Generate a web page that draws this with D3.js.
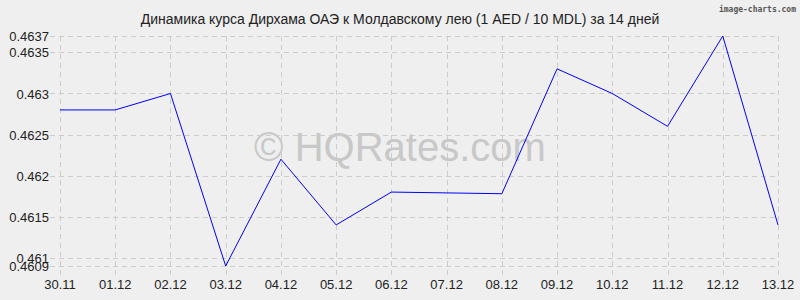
<!DOCTYPE html>
<html><head><meta charset="utf-8">
<script src="https://cdn.jsdelivr.net/npm/d3@7/dist/d3.min.js"></script>
<style>html,body{margin:0;padding:0;background:#efefef;}svg{display:block;}</style>
</head><body>
<script>
const dates = ["30.11","01.12","02.12","03.12","04.12","05.12","06.12","07.12","08.12","09.12","10.12","11.12","12.12","13.12"];
const rates = [0.4628,0.4628,0.4630,0.4609,0.4622,0.4614,0.4618,0.46179,0.46178,0.4633,0.4630,0.4626,0.4637,0.4614];
const yTicks = [0.4609,0.461,0.4615,0.462,0.4625,0.463,0.4635,0.4637];
const yTickLabels = ["0.4609","0.461","0.4615","0.462","0.4625","0.463","0.4635","0.4637"];
const title = "Динамика курса Дирхама ОАЭ к Молдавскому лею (1 AED / 10 MDL) за 14 дней";

const W=800,H=300;
const svg=d3.select("body").append("svg").attr("width",W).attr("height",H);
svg.append("rect").attr("width",W).attr("height",H).attr("fill","#efefef");
const x=d3.scalePoint().domain(dates).range([60,778]);
const y=d3.scaleLinear().domain([0.4609,0.4637]).range([266,36]);
const font="Liberation Sans, Arial, sans-serif";

// watermark
svg.append("text").attr("x",400).attr("y",161).attr("text-anchor","middle")
 .attr("font-family",font).attr("font-size",40).attr("fill","#c8c8c8").text("© HQRates.com");

// horizontal grid
const gH=svg.append("g");
gH.selectAll("line").data(yTicks).join("line")
 .attr("x1",50).attr("x2",778).attr("y1",d=>Math.round(y(d))+0.5).attr("y2",d=>Math.round(y(d))+0.5)
 .attr("stroke","#cccccc").attr("stroke-dasharray","5,4").attr("stroke-width",1);
// vertical grid
const gV=svg.append("g");
gV.selectAll("line").data(dates).join("line")
 .attr("x1",d=>Math.round(x(d))+0.5).attr("x2",d=>Math.round(x(d))+0.5).attr("y1",36).attr("y2",277)
 .attr("stroke","#cccccc").attr("stroke-dasharray","5,4").attr("stroke-width",1);

// y labels
svg.append("g").selectAll("text").data(yTicks).join("text")
 .attr("x",49).attr("y",d=>y(d)+5).attr("text-anchor","end")
 .attr("font-family",font).attr("font-size",13).attr("fill","#222").text((d,i)=>yTickLabels[i]);
// x labels
svg.append("g").selectAll("text").data(dates).join("text")
 .attr("x",d=>x(d)).attr("y",289).attr("text-anchor","middle")
 .attr("font-family",font).attr("font-size",13).attr("fill","#222").text(d=>d);

// line
svg.append("path").datum(rates).attr("fill","none").attr("stroke","#0000ff").attr("stroke-width",1)
 .attr("d",d3.line().x((d,i)=>x(dates[i])).y(d=>y(d)));

// title
svg.append("text").attr("x",400).attr("y",24).attr("text-anchor","middle")
 .attr("font-family",font).attr("font-size",14).attr("fill","#222").text(title);
svg.append("text").attr("x",796).attr("y",12).attr("text-anchor","end")
 .attr("font-family","DejaVu Sans Mono, monospace").attr("font-size",8).attr("font-weight","bold")
 .attr("fill","#555").text("image-charts.com");
</script>
</body></html>
